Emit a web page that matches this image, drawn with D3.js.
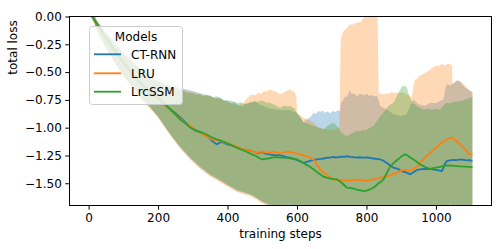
<!DOCTYPE html>
<html>
<head>
<meta charset="utf-8">
<script src="https://cdn.jsdelivr.net/npm/d3@7"></script>
<style>
  body { margin: 0; background: #fff; }
  text { font-family: "DejaVu Sans", sans-serif; }
</style>
</head>
<body>
<div id="chart"></div>
<script>
// model names + colours (matplotlib tab10)
var models = ["CT-RNN", "LRU", "LrcSSM"];
var colors = ["#1f77b4", "#ff7f0e", "#2ca02c"];

var xTicks = [0, 200, 400, 600, 800, 1000];
var yTicks = [0, -0.25, -0.5, -0.75, -1.0, -1.25, -1.5];

// [step, value]
var ctrnnMean = [[0,0.1],[10,0.0],[25,-0.08],[50,-0.2],[75,-0.31],[100,-0.42],[125,-0.52],[150,-0.6],[175,-0.68],[200,-0.74],[225,-0.81],[250,-0.87],[275,-0.94],[295,-1.0],[310,-1.03],[320,-1.035],[330,-1.06],[340,-1.075],[350,-1.1],[360,-1.13],[369,-1.15],[377,-1.135],[385,-1.13],[392,-1.14],[400,-1.15],[414,-1.16],[427,-1.18],[438,-1.19],[450,-1.2],[460,-1.205],[470,-1.21],[485,-1.23],[500,-1.22],[510,-1.235],[520,-1.24],[530,-1.245],[540,-1.25],[550,-1.248],[560,-1.256],[570,-1.265],[580,-1.27],[590,-1.28],[600,-1.29],[610,-1.305],[619,-1.316],[627,-1.31],[635,-1.3],[642,-1.295],[648,-1.29],[658,-1.285],[670,-1.28],[680,-1.275],[688,-1.27],[696,-1.27],[705,-1.262],[712,-1.27],[720,-1.265],[730,-1.26],[738,-1.262],[744,-1.256],[752,-1.262],[760,-1.265],[770,-1.27],[780,-1.266],[792,-1.27],[803,-1.268],[815,-1.275],[828,-1.28],[840,-1.286],[848,-1.295],[855,-1.31],[862,-1.325],[868,-1.34],[878,-1.36],[890,-1.37],[900,-1.39],[912,-1.4],[926,-1.42],[935,-1.4],[945,-1.38],[955,-1.375],[965,-1.37],[975,-1.372],[983,-1.37],[992,-1.375],[1000,-1.38],[1008,-1.385],[1017,-1.39],[1022,-1.36],[1025,-1.33],[1031,-1.3],[1040,-1.295],[1050,-1.29],[1060,-1.292],[1070,-1.286],[1080,-1.29],[1090,-1.295],[1098,-1.292],[1105,-1.3]];
var lruMean = [[0,0.1],[10,0.0],[25,-0.08],[50,-0.2],[75,-0.31],[100,-0.42],[125,-0.52],[150,-0.6],[175,-0.68],[200,-0.745],[225,-0.815],[250,-0.88],[275,-0.95],[295,-0.99],[308,-1.02],[321,-1.046],[330,-1.06],[340,-1.08],[350,-1.095],[360,-1.11],[370,-1.115],[380,-1.12],[390,-1.13],[400,-1.14],[414,-1.155],[427,-1.17],[438,-1.185],[450,-1.2],[460,-1.205],[470,-1.21],[478,-1.22],[485,-1.226],[492,-1.218],[500,-1.215],[510,-1.222],[520,-1.225],[530,-1.218],[540,-1.22],[550,-1.228],[561,-1.226],[568,-1.218],[575,-1.215],[582,-1.222],[590,-1.226],[600,-1.232],[610,-1.24],[620,-1.25],[630,-1.26],[640,-1.27],[648,-1.286],[657,-1.33],[667,-1.376],[676,-1.4],[685,-1.42],[695,-1.445],[705,-1.466],[715,-1.47],[725,-1.475],[735,-1.472],[744,-1.48],[752,-1.475],[760,-1.47],[766,-1.472],[772,-1.466],[778,-1.47],[785,-1.475],[793,-1.472],[801,-1.48],[810,-1.47],[820,-1.465],[830,-1.46],[840,-1.45],[848,-1.445],[855,-1.44],[862,-1.435],[868,-1.43],[878,-1.415],[890,-1.4],[898,-1.39],[907,-1.38],[916,-1.385],[925,-1.39],[932,-1.375],[940,-1.36],[948,-1.34],[955,-1.31],[965,-1.28],[975,-1.25],[985,-1.225],[993,-1.196],[1000,-1.18],[1010,-1.15],[1020,-1.13],[1031,-1.106],[1038,-1.095],[1046,-1.09],[1052,-1.1],[1058,-1.12],[1064,-1.135],[1070,-1.15],[1078,-1.175],[1085,-1.2],[1092,-1.225],[1098,-1.24],[1105,-1.24]];
var lrcMean = [[0,0.1],[10,0.0],[25,-0.07],[50,-0.19],[75,-0.3],[100,-0.41],[125,-0.51],[150,-0.6],[175,-0.67],[200,-0.73],[216,-0.776],[240,-0.85],[265,-0.93],[280,-0.965],[293,-1.0],[306,-1.02],[320,-1.04],[332,-1.05],[345,-1.07],[357,-1.09],[369,-1.106],[385,-1.12],[400,-1.14],[414,-1.16],[427,-1.18],[438,-1.195],[450,-1.21],[460,-1.225],[470,-1.24],[478,-1.25],[485,-1.26],[492,-1.275],[500,-1.286],[510,-1.28],[520,-1.275],[530,-1.268],[540,-1.265],[550,-1.27],[561,-1.27],[570,-1.272],[580,-1.275],[590,-1.28],[600,-1.286],[612,-1.305],[625,-1.33],[636,-1.35],[648,-1.376],[658,-1.4],[667,-1.42],[676,-1.44],[686,-1.45],[693,-1.455],[700,-1.46],[708,-1.462],[715,-1.466],[722,-1.48],[730,-1.5],[737,-1.52],[744,-1.54],[752,-1.542],[760,-1.545],[768,-1.552],[775,-1.56],[783,-1.565],[792,-1.57],[798,-1.568],[805,-1.56],[812,-1.552],[820,-1.54],[828,-1.52],[835,-1.5],[842,-1.485],[849,-1.466],[855,-1.43],[860,-1.4],[864,-1.375],[868,-1.35],[876,-1.325],[885,-1.3],[893,-1.28],[900,-1.26],[905,-1.25],[911,-1.24],[916,-1.245],[922,-1.26],[928,-1.27],[935,-1.286],[942,-1.3],[950,-1.32],[957,-1.335],[964,-1.346],[973,-1.36],[983,-1.37],[992,-1.365],[1000,-1.36],[1015,-1.35],[1031,-1.34],[1045,-1.342],[1060,-1.345],[1072,-1.348],[1085,-1.35],[1095,-1.352],[1105,-1.355]];

// upper / lower edge of the shaded spread
var ctrnnUpper = [[0,0.12],[25,-0.04],[50,-0.14],[75,-0.23],[100,-0.32],[140,-0.44],[180,-0.54],[215,-0.6],[250,-0.63],[274,-0.65],[300,-0.67],[331,-0.7],[350,-0.71],[365,-0.74],[379,-0.73],[390,-0.76],[398,-0.75],[410,-0.78],[420,-0.77],[432,-0.8],[446,-0.806],[452,-0.78],[458,-0.79],[465,-0.765],[472,-0.775],[480,-0.755],[490,-0.79],[500,-0.8],[523,-0.83],[552,-0.84],[580,-0.84],[600,-0.87],[619,-0.95],[640,-0.9],[648,-0.866],[655,-0.875],[661,-0.85],[667,-0.86],[674,-0.845],[680,-0.865],[688,-0.855],[696,-0.87],[703,-0.85],[710,-0.86],[717,-0.845],[724,-0.85],[727,-0.78],[733,-0.75],[738,-0.72],[743,-0.73],[748,-0.69],[753,-0.665],[758,-0.7],[764,-0.69],[772,-0.72],[778,-0.7],[785,-0.695],[792,-0.71],[801,-0.695],[808,-0.715],[815,-0.705],[822,-0.72],[830,-0.715],[836,-0.76],[839,-0.806],[858,-0.836],[878,-0.88],[897,-0.896],[915,-0.88],[935,-0.746],[950,-0.79],[968,-0.806],[983,-0.776],[1000,-0.78],[1012,-0.76],[1022,-0.746],[1026,-0.66],[1031,-0.61],[1040,-0.62],[1050,-0.6],[1056,-0.585],[1060,-0.575],[1065,-0.58],[1070,-0.59],[1078,-0.62],[1085,-0.64],[1095,-0.66],[1105,-0.68]];
var ctrnnLower = [[0,0.08],[25,-0.13],[50,-0.28],[75,-0.41],[100,-0.53],[125,-0.63],[150,-0.73],[175,-0.81],[200,-0.9],[215,-0.97],[240,-1.08],[264,-1.18],[290,-1.27],[321,-1.36],[350,-1.43],[379,-1.48],[400,-1.52],[428,-1.57],[450,-1.59],[465,-1.6],[480,-1.62],[494,-1.66],[520,-1.7],[542,-1.72],[570,-1.69],[585,-1.72],[600,-1.78],[700,-1.9],[900,-1.95],[1030,-1.75],[1042,-1.68],[1050,-1.72],[1105,-1.85]];
var lruUpper = [[0,0.12],[25,-0.04],[50,-0.15],[75,-0.24],[100,-0.33],[140,-0.45],[180,-0.55],[215,-0.61],[250,-0.64],[274,-0.66],[300,-0.68],[321,-0.7],[350,-0.72],[379,-0.74],[400,-0.77],[430,-0.8],[448,-0.77],[455,-0.74],[462,-0.72],[470,-0.7],[478,-0.71],[489,-0.686],[497,-0.695],[505,-0.67],[512,-0.68],[518,-0.66],[523,-0.656],[530,-0.67],[536,-0.665],[540,-0.68],[546,-0.69],[552,-0.7],[558,-0.69],[565,-0.68],[572,-0.665],[580,-0.656],[586,-0.67],[590,-0.67],[595,-0.69],[598,-0.72],[600,-0.866],[610,-0.89],[619,-0.91],[627,-0.92],[635,-0.93],[642,-0.945],[648,-0.956],[660,-1.0],[700,-1.02],[722,-1.0],[726,-0.207],[730,-0.16],[734,-0.13],[742,-0.11],[748,-0.09],[753,-0.07],[760,-0.075],[768,-0.06],[775,-0.055],[782,-0.05],[788,-0.03],[792,-0.01],[796,0.05],[832,0.05],[835,-0.686],[842,-0.7],[849,-0.7],[856,-0.69],[864,-0.695],[871,-0.68],[878,-0.686],[887,-0.686],[895,-0.69],[903,-0.68],[910,-0.695],[916,-0.7],[925,-0.71],[930,-0.73],[934,-0.65],[937,-0.6],[940,-0.567],[946,-0.56],[950,-0.54],[955,-0.53],[962,-0.52],[968,-0.51],[973,-0.5],[980,-0.485],[986,-0.47],[990,-0.46],[996,-0.45],[1003,-0.44],[1010,-0.445],[1015,-0.43],[1020,-0.43],[1026,-0.44],[1030,-0.435],[1036,-0.425],[1041,-0.43],[1046,-0.44],[1048,-0.61],[1054,-0.6],[1060,-0.58],[1065,-0.575],[1070,-0.58],[1075,-0.595],[1080,-0.61],[1088,-0.64],[1098,-0.67],[1105,-0.68]];
var lruLower = [[0,0.07],[25,-0.14],[50,-0.29],[75,-0.42],[100,-0.54],[125,-0.64],[150,-0.74],[175,-0.82],[200,-0.91],[215,-0.98],[240,-1.09],[264,-1.19],[290,-1.28],[321,-1.37],[350,-1.44],[379,-1.49],[400,-1.53],[428,-1.58],[450,-1.6],[465,-1.62],[480,-1.64],[494,-1.67],[520,-1.71],[561,-1.73],[575,-1.68],[590,-1.7],[610,-1.8],[700,-1.95],[900,-1.95],[1105,-1.9]];
var lrcUpper = [[0,0.12],[25,-0.05],[50,-0.15],[75,-0.25],[100,-0.34],[140,-0.45],[180,-0.55],[215,-0.61],[232,-0.63],[250,-0.64],[258,-0.665],[264,-0.656],[275,-0.67],[285,-0.685],[300,-0.69],[310,-0.705],[321,-0.7],[330,-0.72],[340,-0.705],[350,-0.716],[360,-0.73],[368,-0.715],[379,-0.73],[388,-0.75],[400,-0.76],[410,-0.755],[420,-0.77],[430,-0.78],[438,-0.77],[446,-0.79],[455,-0.78],[465,-0.776],[475,-0.765],[485,-0.77],[494,-0.755],[504,-0.76],[512,-0.775],[523,-0.776],[530,-0.79],[540,-0.8],[546,-0.815],[552,-0.82],[558,-0.81],[565,-0.8],[572,-0.81],[580,-0.806],[585,-0.815],[590,-0.82],[595,-0.84],[600,-0.866],[608,-0.9],[619,-0.956],[627,-0.96],[635,-0.97],[642,-0.975],[648,-0.986],[656,-0.99],[665,-1.0],[671,-1.01],[677,-1.016],[684,-0.995],[690,-0.98],[698,-0.965],[705,-0.956],[712,-0.975],[720,-1.0],[725,-1.03],[730,-1.05],[737,-1.065],[744,-1.076],[752,-1.06],[760,-1.05],[766,-1.04],[772,-1.03],[780,-1.035],[790,-1.02],[795,-1.025],[801,-1.016],[810,-1.0],[820,-0.986],[828,-0.95],[835,-0.92],[842,-0.89],[849,-0.866],[857,-0.83],[865,-0.8],[871,-0.79],[878,-0.776],[884,-0.74],[890,-0.7],[897,-0.656],[901,-0.635],[905,-0.62],[910,-0.63],[916,-0.63],[921,-0.7],[928,-0.75],[935,-0.78],[945,-0.806],[954,-0.82],[964,-0.836],[976,-0.83],[990,-0.84],[1000,-0.83],[1012,-0.836],[1022,-0.8],[1031,-0.776],[1040,-0.78],[1050,-0.77],[1060,-0.765],[1070,-0.76],[1080,-0.75],[1090,-0.74],[1098,-0.735],[1105,-0.72]];
var lrcLower = [[0,0.08],[25,-0.13],[50,-0.28],[75,-0.41],[100,-0.53],[125,-0.63],[150,-0.73],[175,-0.81],[200,-0.9],[215,-0.97],[240,-1.08],[264,-1.17],[290,-1.26],[321,-1.35],[350,-1.42],[379,-1.47],[400,-1.51],[428,-1.56],[450,-1.58],[465,-1.6],[480,-1.63],[494,-1.65],[520,-1.69],[542,-1.71],[600,-1.8],[700,-1.95],[900,-1.95],[1105,-1.9]];

var means = [ctrnnMean, lruMean, lrcMean];
var uppers = [ctrnnUpper, lruUpper, lrcUpper];
var lowers = [ctrnnLower, lruLower, lrcLower];

var W = 498, H = 249;
// note: "top" is taken by window.top, so plot box uses px*
var pxL = 69.5, pxR = 491.5, pxT = 16.5, pxB = 205.5;

var svg = d3.select("#chart").append("svg")
  .attr("width", W).attr("height", H);

var x = d3.scaleLinear().domain([-55, 1160]).range([pxL, pxR]);
var y = d3.scaleLinear().domain([-1.7, 0]).range([pxB, pxT]);

svg.append("clipPath").attr("id", "clip")
  .append("rect").attr("x", pxL).attr("y", pxT)
  .attr("width", pxR - pxL).attr("height", pxB - pxT);

var line = d3.line().x(function(d){ return x(d[0]); }).y(function(d){ return y(d[1]); });

var plot = svg.append("g").attr("clip-path", "url(#clip)");

// bands first, then the mean lines on top
for (var i = 0; i < 3; i++) {
  var poly = uppers[i].concat(lowers[i].slice().reverse());
  plot.append("path")
    .attr("d", line(poly) + "Z")
    .attr("fill", colors[i])
    .attr("fill-opacity", 0.3)
    .attr("stroke", "none");
}
for (var i = 0; i < 3; i++) {
  plot.append("path")
    .attr("d", line(means[i]))
    .attr("fill", "none")
    .attr("stroke", colors[i])
    .attr("stroke-width", 1.8)
    .attr("stroke-linejoin", "round");
}

// axes
var xAxis = svg.append("g").attr("transform", "translate(0," + pxB + ")")
  .call(d3.axisBottom(x).tickValues(xTicks).tickFormat(d3.format("d")).tickSize(4.2).tickPadding(3.5).tickSizeOuter(0));
var yAxis = svg.append("g").attr("transform", "translate(" + pxL + ",0)")
  .call(d3.axisLeft(y).tickValues(yTicks).tickFormat(d3.format(".2f")).tickSize(4.2).tickPadding(3.5).tickSizeOuter(0));
[xAxis, yAxis].forEach(function(a){
  a.select(".domain").remove();
  a.selectAll("text").attr("font-size", 12).attr("font-family", "DejaVu Sans").attr("fill", "#000");
  a.selectAll("line").attr("stroke", "#000").attr("stroke-width", 1);
});

svg.append("rect")
  .attr("x", pxL).attr("y", pxT)
  .attr("width", pxR - pxL).attr("height", pxB - pxT)
  .attr("fill", "none").attr("stroke", "#000").attr("stroke-width", 1);

// axis labels
svg.append("text")
  .attr("x", (pxL + pxR) / 2).attr("y", 237.5)
  .attr("text-anchor", "middle").attr("font-size", 12)
  .text("training steps");
svg.append("text")
  .attr("transform", "translate(17,47.5) rotate(-90)")
  .attr("text-anchor", "middle").attr("font-size", 12)
  .text("total loss");

// legend
var lg = svg.append("g");
lg.append("rect")
  .attr("x", 89.5).attr("y", 26.5).attr("width", 93).attr("height", 78)
  .attr("rx", 3).attr("fill", "#fff").attr("fill-opacity", 0.8)
  .attr("stroke", "#ccc").attr("stroke-width", 1);
lg.append("text").attr("x", 136).attr("y", 40.5)
  .attr("text-anchor", "middle").attr("font-size", 12).text("Models");
var rowY = [54.3, 73.3, 91.7];
models.forEach(function(name, i){
  lg.append("line")
    .attr("x1", 94).attr("x2", 121)
    .attr("y1", rowY[i]).attr("y2", rowY[i])
    .attr("stroke", colors[i]).attr("stroke-width", 1.8);
  lg.append("text").attr("x", 131).attr("y", rowY[i] + 4.4)
    .attr("font-size", 12).text(name);
});
</script>
</body>
</html>
